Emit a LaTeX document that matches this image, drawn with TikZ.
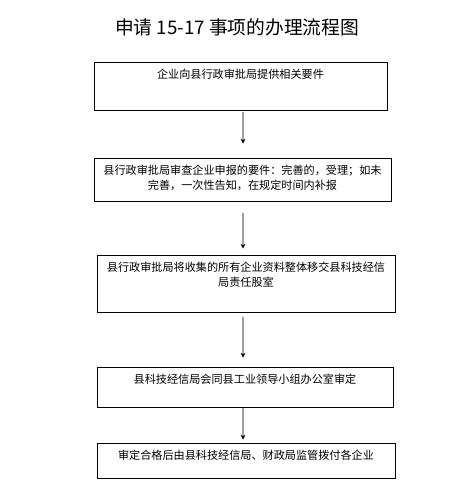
\documentclass[tikz,border=0pt]{standalone}
\usepackage{fontspec}
\newfontfamily\cjk{Noto Sans CJK SC}
\usepackage{tikz}
\usetikzlibrary{arrows.meta, positioning}
\tikzset{
  stepbox/.style ={rectangle, draw=black, line width=0.8pt, inner sep=0pt},
  steptxt/.style ={anchor=north, inner sep=0pt, align=center,
                   font=\cjk\fontsize{9.5pt}{12.8pt}\selectfont},
  arr/.style     ={-{Stealth[black, length=4pt, width=4pt]}, line width=1.3pt, gray!75},
}

\begin{document}
\begin{tikzpicture}[x=0.03cm, y=-0.03cm]

  \useasboundingbox (0,0) rectangle (475,501);

  % ── Title ──────────────────────────────────────────────────────────
  \node[font=\cjk\fontsize{16pt}{18pt}\selectfont] (title) at (237,27)
        {申请 15-17 事项的办理流程图};

  % ── Boxes ──────────────────────────────────────────────────────────
  \node[stepbox, minimum width=8.79cm, minimum height=1.44cm] (b1) at (240.5,86)  {};
  \node[stepbox, minimum width=8.91cm, minimum height=1.29cm] (b2) at (242.5,179.5) {};
  \node[stepbox, minimum width=8.94cm, minimum height=1.71cm] (b3) at (246,283.5) {};
  \node[stepbox, minimum width=8.88cm, minimum height=1.20cm] (b4) at (245,387)   {};
  \node[stepbox, minimum width=8.94cm, minimum height=1.05cm] (b5) at (246,460.5) {};

  % ── Texts ──────────────────────────────────────────────────────────
  \node[steptxt, below=0.22cm of b1.north] (t1) {企业向县行政审批局提供相关要件};
  \node[steptxt, below=0.22cm of b2.north] (t2)
        {县行政审批局审查企业申报的要件：完善的，受理；如未\\完善，一次性告知，在规定时间内补报};
  \node[steptxt, below=0.22cm of b3.north] (t3)
        {县行政审批局将收集的所有企业资料整体移交县科技经信\\局责任股室};
  \node[steptxt, below=0.22cm of b4.north] (t4) {县科技经信局会同县工业领导小组办公室审定};
  \node[steptxt, below=0.22cm of b5.north] (t5) {审定合格后由县科技经信局、财政局监管拨付各企业};

  % ── Arrows ─────────────────────────────────────────────────────────
  \coordinate (ax) at (243,0);
  \draw[arr, shorten <=0.06cm, shorten >=0.42cm] (b1.south -| ax) -- (b2.north -| ax);
  \draw[arr, shorten <=0.36cm, shorten >=0.18cm] (b2.south -| ax) -- (b3.north -| ax);
  \draw[arr, shorten <=0.15cm, shorten >=0.27cm] (b3.south -| ax) -- (b4.north -| ax);
  \draw[arr, shorten <=0.03cm, shorten >=0.09cm] (b4.south -| ax) -- (b5.north -| ax);

\end{tikzpicture}
\end{document}
